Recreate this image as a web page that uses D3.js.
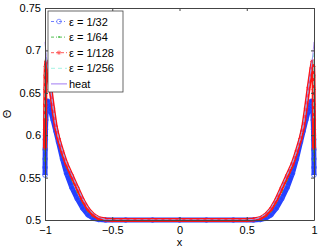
<!DOCTYPE html>
<html>
<head>
<meta charset="utf-8">
<script src="https://cdn.jsdelivr.net/npm/d3@7"></script>
<style>
  body { margin: 0; background: #fff; }
  svg { display: block; font-family: "Liberation Sans", Arial, sans-serif; }
  .axis path, .axis line { stroke: #444; }
  .axis text { font-size: 11px; fill: #000; }
</style>
</head>
<body>
<svg width="320" height="249"></svg>
<script>
// half profiles (distance from wall d = 1 - |x|)
var wallDist32 = [0, 0.0003, 0.0008, 0.0015, 0.0025, 0.004, 0.006, 0.009, 0.013, 0.02, 0.04, 0.06, 0.08, 0.1, 0.13, 0.16, 0.2, 0.24, 0.28, 0.32, 0.36, 0.4, 0.45, 0.6, 0.8, 1];
var theta32 =    [0.553, 0.562, 0.572, 0.583, 0.595, 0.607, 0.618, 0.628, 0.636, 0.640, 0.630, 0.618, 0.605, 0.592, 0.572, 0.555, 0.538, 0.525, 0.514, 0.506, 0.502, 0.5005, 0.5, 0.5, 0.5, 0.5];

var wallDist64 = [0, 0.0003, 0.0008, 0.0015, 0.0025, 0.004, 0.006, 0.009, 0.014, 0.03, 0.05, 0.08, 0.1, 0.13, 0.16, 0.2, 0.24, 0.28, 0.32, 0.36, 0.4, 0.45, 0.6, 0.8, 1];
var theta64 =    [0.570, 0.583, 0.598, 0.613, 0.628, 0.642, 0.654, 0.664, 0.672, 0.660, 0.638, 0.608, 0.594, 0.577, 0.562, 0.547, 0.533, 0.520, 0.510, 0.504, 0.501, 0.5002, 0.5, 0.5, 0.5, 0.5];

var wallDist128 = [0, 0.0003, 0.0008, 0.0015, 0.0025, 0.004, 0.006, 0.01, 0.02, 0.04, 0.06, 0.08, 0.1, 0.13, 0.16, 0.2, 0.24, 0.28, 0.32, 0.36, 0.4, 0.45, 0.5, 0.6, 0.8, 1];
var theta128 =    [0.585, 0.600, 0.618, 0.636, 0.654, 0.670, 0.681, 0.687, 0.678, 0.656, 0.632, 0.610, 0.596, 0.580, 0.566, 0.552, 0.538, 0.524, 0.513, 0.506, 0.502, 0.5005, 0.5, 0.5, 0.5, 0.5];

var wallDist256 = [0, 0.0005, 0.0015, 0.003, 0.005, 0.01, 0.02, 0.04, 0.06, 0.08, 0.1, 0.13, 0.16, 0.2, 0.24, 0.28, 0.32, 0.36, 0.4, 0.45, 0.5, 0.6, 0.8, 1];
var theta256 =    [0.620, 0.650, 0.675, 0.690, 0.697, 0.692, 0.680, 0.657, 0.633, 0.611, 0.597, 0.581, 0.567, 0.553, 0.539, 0.525, 0.514, 0.507, 0.503, 0.5006, 0.5, 0.5, 0.5, 0.5];

var wallDistHeat = [0, 0.005, 0.01, 0.02, 0.04, 0.06, 0.08, 0.1, 0.13, 0.16, 0.2, 0.24, 0.28, 0.32, 0.36, 0.4, 0.45, 0.5, 0.6, 0.8, 1];
var thetaHeat =    [0.710, 0.701, 0.693, 0.681, 0.657, 0.633, 0.611, 0.597, 0.581, 0.567, 0.553, 0.539, 0.525, 0.514, 0.507, 0.503, 0.5006, 0.5, 0.5, 0.5, 0.5];

var legendLabels = ["ε = 1/32", "ε = 1/64", "ε = 1/128", "ε = 1/256", "heat"];
var xTicks = [-1, -0.5, 0, 0.5, 1];
var yTicks = [0.5, 0.55, 0.6, 0.65, 0.7, 0.75];

var svg = d3.select("svg"),
  margin = {top: 8, right: 6, bottom: 29, left: 45},
  width = +svg.attr("width") - margin.left - margin.right,
  height = +svg.attr("height") - margin.top - margin.bottom;

var x = d3.scaleLinear().domain([-1, 1]).range([0, width]);
var y = d3.scaleLinear().domain([0.5, 0.75]).range([height, 0]);

// mirror the wall profile to both walls (the picture is symmetric)
function both(dist, vals) {
  var pts = [];
  dist.forEach(function(d, i) { pts.push([-1 + d, vals[i]]); });
  dist.forEach(function(d, i) { if (d < 1) pts.push([1 - d, vals[i]]); });
  return pts.sort(function(a, b) { return a[0] - b[0]; });
}

var series = [
  {pts: both(wallDist32, theta32), color: "#2540ff", width: 5, dash: null, marker: "o", mcolor: "#3552ff", lcolor: "#6f7fff", ldash: "3,2,1,2"},
  {pts: both(wallDist64, theta64), color: "#22b022", width: 1, dash: "4,2,1,2", marker: "dot", mcolor: "#3cb03c", lcolor: "#55c055", ldash: "3,2,1,2"},
  {pts: both(wallDist128, theta128), color: "#ff1515", width: 4, dash: null, marker: "star", mcolor: "#ff1a1a", lcolor: "#ff5a5a", ldash: "3,2"},
  {pts: both(wallDist256, theta256), color: "#8ff0dc", width: 1, dash: "4,3", marker: null, lcolor: "#a6f3e3", ldash: "4,3"},
  {pts: both(wallDistHeat, thetaHeat), color: "#a27cf2", width: 0.8, dash: null, marker: null, lcolor: "#a27cf2", ldash: null}
];

var focus = svg.append("g")
  .attr("transform", "translate(" + margin.left + "," + margin.top + ")");

var line = d3.line()
  .x(function(d) { return x(d[0]); })
  .y(function(d) { return y(d[1]); });

function drawMarker(g, type, color, cx, cy) {
  if (type === "o") {
    g.append("circle").attr("cx", cx).attr("cy", cy).attr("r", 2.3)
      .attr("fill", "none").attr("stroke", color).attr("stroke-width", 0.8);
  } else if (type === "dot") {
    g.append("circle").attr("cx", cx).attr("cy", cy).attr("r", 1)
      .attr("fill", color);
  } else if (type === "star") {
    var s = 2.2;
    g.append("path")
      .attr("d", "M" + (cx - s) + "," + cy + "H" + (cx + s) +
        "M" + cx + "," + (cy - s) + "V" + (cy + s) +
        "M" + (cx - s * 0.7) + "," + (cy - s * 0.7) + "L" + (cx + s * 0.7) + "," + (cy + s * 0.7) +
        "M" + (cx - s * 0.7) + "," + (cy + s * 0.7) + "L" + (cx + s * 0.7) + "," + (cy - s * 0.7))
      .attr("stroke", color).attr("stroke-width", 0.9).attr("fill", "none");
  }
}

series.forEach(function(s) {
  focus.append("path")
    .datum(s.pts)
    .attr("fill", "none")
    .attr("stroke", s.color)
    .attr("stroke-width", s.width)
    .attr("stroke-dasharray", s.dash)
    .attr("stroke-linejoin", "round")
    .attr("d", line);
  if (s.marker) {
    var mg = focus.append("g");
    s.pts.forEach(function(p) {
      drawMarker(mg, s.marker, s.mcolor, x(p[0]), y(p[1]));
    });
  }
});

// axes with inward ticks on all four sides
focus.append("g")
  .attr("class", "axis")
  .attr("transform", "translate(0," + height + ")")
  .call(d3.axisBottom(x).tickValues(xTicks).tickSizeInner(-3).tickSizeOuter(0).tickPadding(6).tickFormat(d3.format("")));

focus.append("g")
  .attr("class", "axis")
  .call(d3.axisTop(x).tickValues(xTicks).tickSizeInner(-3).tickSizeOuter(0).tickFormat(""));

focus.append("g")
  .attr("class", "axis")
  .call(d3.axisLeft(y).tickValues(yTicks).tickSizeInner(-3).tickSizeOuter(0).tickPadding(4).tickFormat(d3.format("")));

focus.append("g")
  .attr("class", "axis")
  .attr("transform", "translate(" + width + ",0)")
  .call(d3.axisRight(y).tickValues(yTicks).tickSizeInner(-3).tickSizeOuter(0).tickFormat(""));

//text label for X-axis
svg.append("text")
  .attr("x", margin.left + width / 2)
  .attr("y", 246)
  .style("text-anchor", "middle")
  .style("font-size", "11px")
  .text("x");

//text label for Y-axis
svg.append("text")
  .attr("transform", "translate(11," + (margin.top + height / 2) + ") rotate(-90)")
  .style("text-anchor", "middle")
  .style("font-size", "11px")
  .text("Θ");

// legend
var legend = svg.append("g").attr("transform", "translate(48,11)");
legend.append("rect")
  .attr("width", 75).attr("height", 81)
  .attr("fill", "#fff").attr("stroke", "#444").attr("stroke-width", 0.8);

legendLabels.forEach(function(label, i) {
  var s = series[i];
  var ly = 10.5 + i * 15.6;
  legend.append("line")
    .attr("x1", 3).attr("x2", 19).attr("y1", ly).attr("y2", ly)
    .attr("stroke", s.lcolor).attr("stroke-width", 1)
    .attr("stroke-dasharray", s.ldash);
  if (s.marker) drawMarker(legend, s.marker, s.lcolor, 11, ly);
  legend.append("text")
    .attr("x", 21).attr("y", ly + 4)
    .style("font-size", "11px")
    .text(label);
});
</script>
</body>
</html>
